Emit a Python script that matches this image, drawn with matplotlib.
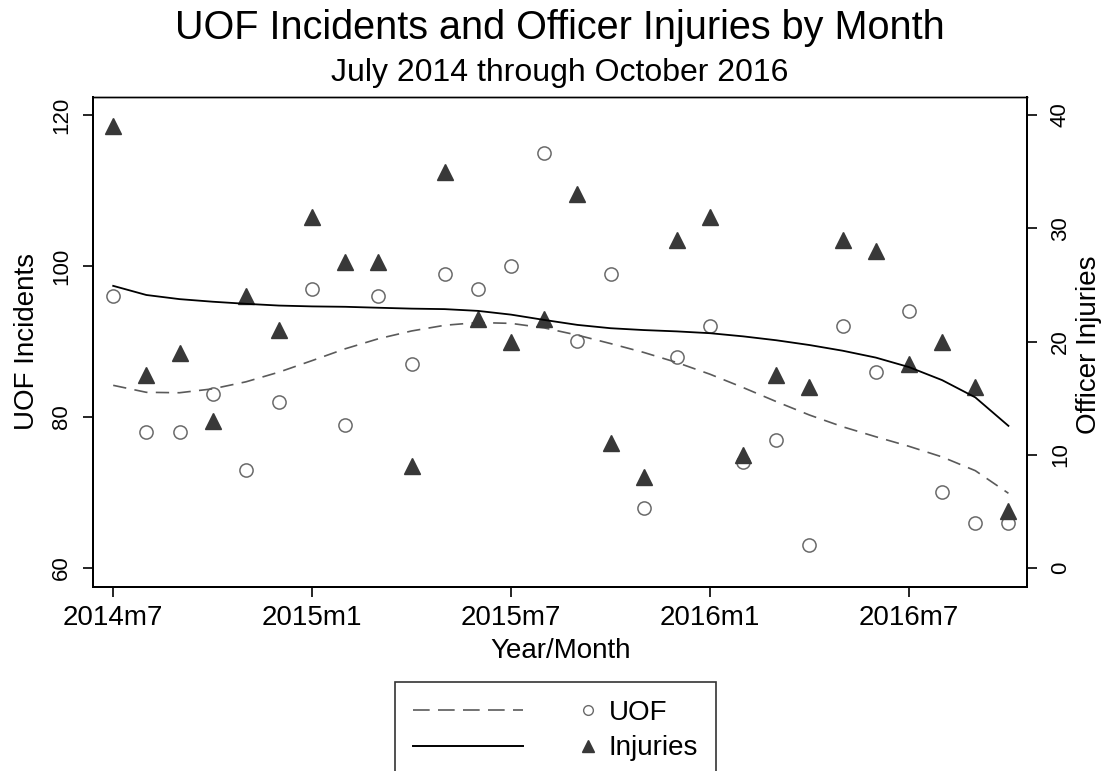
import numpy as np
import matplotlib
matplotlib.use("Agg")
import matplotlib.pyplot as plt
from matplotlib.lines import Line2D
from matplotlib.legend_handler import HandlerBase

plt.rcParams['font.family'] = ['Liberation Sans', 'DejaVu Sans']

# ---------------- data ----------------
months = ['2014m7', '2014m8', '2014m9', '2014m10', '2014m11', '2014m12',
          '2015m1', '2015m2', '2015m3', '2015m4', '2015m5', '2015m6',
          '2015m7', '2015m8', '2015m9', '2015m10', '2015m11', '2015m12',
          '2016m1', '2016m2', '2016m3', '2016m4', '2016m5', '2016m6',
          '2016m7', '2016m8', '2016m9', '2016m10']
uof = [96, 78, 78, 83, 73, 82, 97, 79, 96, 87, 99, 97, 100, 115,
       90, 99, 68, 88, 92, 74, 77, 63, 92, 86, 94, 70, 66, 66]
injuries = [39, 17, 19, 13, 24, 21, 31, 27, 27, 9, 35, 22, 20, 22,
            33, 11, 8, 29, 31, 10, 17, 16, 29, 28, 18, 20, 16, 5]
tick_labels = ['2014m7', '2015m1', '2015m7', '2016m1', '2016m7']
left_ticks = [60, 80, 100, 120]
right_ticks = [0, 10, 20, 30, 40]


def stata_lowess(x, y, bw=0.8):
    x = np.asarray(x, float)
    y = np.asarray(y, float)
    n = len(x)
    k = int(np.floor((n * bw - 0.5) / 2))
    out = np.empty(n)
    for i in range(n):
        lo = max(0, i - k)
        hi = min(n - 1, i + k)
        xs = x[lo:hi + 1]
        ys = y[lo:hi + 1]
        delta = 1.0001 * max(x[hi] - x[i], x[i] - x[lo])
        w = (1 - (np.abs(xs - x[i]) / delta) ** 3) ** 3
        W = w.sum()
        xm = (w * xs).sum() / W
        ym = (w * ys).sum() / W
        b = (w * (xs - xm) * (ys - ym)).sum() / (w * (xs - xm) ** 2).sum()
        out[i] = ym + b * (x[i] - xm)
    return out


x = np.arange(len(months))
tick_pos = [months.index(t) for t in tick_labels]
uof_s = stata_lowess(x, uof)
inj_s = stata_lowess(x, injuries)

W, H = 1104, 771
fig = plt.figure(figsize=(W / 100, H / 100), dpi=100)
fig.patch.set_facecolor('white')

L, R, T, B = 93.3, 1027, 97, 586.7
ax = fig.add_axes([L / W, 1 - B / H, (R - L) / W, (B - T) / H])
ax2 = ax.twinx()

circ_col = '#6a6a6a'
tri_col = '#383838'

ax.plot(x, uof, linestyle='None', marker='o', markersize=9.5,
        markerfacecolor='white', markeredgecolor=circ_col, markeredgewidth=1.1, zorder=3)
ax.plot(x, uof_s, color='#5a5a5a', lw=1.2, linestyle=(0, (8, 5)), zorder=4)
ax2.plot(x, injuries, linestyle='None', marker='^', markersize=11.5,
         color=tri_col, zorder=3)
ax2.plot(x, inj_s, color='black', lw=1.3, zorder=4)

ax.set_xlim(-0.6, 27.56)
ax.set_ylim(57.52, 122.38)
ax2.set_ylim(-1.65, 41.59)

ax.set_xticks(tick_pos)
ax.set_xticklabels(tick_labels)
ax.set_yticks(left_ticks)
ax2.set_yticks(right_ticks)

for a in (ax, ax2):
    for s in a.spines.values():
        s.set_color('black')
        s.set_linewidth(1.4)
    a.spines['top'].set_linewidth(1.0)

ax.tick_params(axis='x', direction='out', length=7, width=1.2, labelsize=20, pad=6)
ax.tick_params(axis='y', direction='out', length=7, width=1.2, labelsize=16, pad=8.5)
ax2.tick_params(axis='y', direction='out', length=7, width=1.2, labelsize=16, pad=9.5)
for lab in ax.get_yticklabels():
    lab.set_rotation(90)
    lab.set_va('center')
for lab in ax2.get_yticklabels():
    lab.set_rotation(90)
    lab.set_va('center')

ax.set_xlabel('Year/Month', fontsize=20, labelpad=5.5)
fig.text(27 / W, 1 - 341 / H, 'UOF Incidents', rotation=90, fontsize=20,
         ha='center', va='center')
fig.text(1089 / W, 1 - 345 / H, 'Officer Injuries', rotation=90, fontsize=20,
         ha='center', va='center')

fig.text(560 / W, 1 - 28 / H, 'UOF Incidents and Officer Injuries by Month',
         fontsize=28.5, ha='center', va='center')
fig.text(560 / W, 1 - 73 / H, 'July 2014 through October 2016',
         fontsize=23, ha='center', va='center')


class LineMarkerHandler(HandlerBase):
    def create_artists(self, legend, orig_handle, xdescent, ydescent,
                       width, height, fontsize, trans):
        line_h, mark_h = orig_handle
        y = height / 2 - ydescent
        x0 = -xdescent
        ln = Line2D([x0, x0 + 0.6 * width], [y, y])
        ln.update_from(line_h)
        ln.set_transform(trans)
        mk = Line2D([x0 + width - 0.3 * fontsize], [y])
        mk.update_from(mark_h)
        mk.set_linestyle('None')
        mk.set_transform(trans)
        return [ln, mk]


h_dash = Line2D([], [], color='#5a5a5a', lw=1.2, linestyle=(0, (10, 5)))
h_circ = Line2D([], [], linestyle='None', marker='o', markersize=7,
                markerfacecolor='white', markeredgecolor=circ_col, markeredgewidth=1.0)
h_solid = Line2D([], [], color='black', lw=1.4)
h_tri = Line2D([], [], linestyle='None', marker='^', markersize=9, color=tri_col)

leg = fig.legend(handles=[(h_dash, h_circ), (h_solid, h_tri)],
                 labels=['UOF', 'Injuries'],
                 handler_map={tuple: LineMarkerHandler()},
                 loc='upper left', bbox_to_anchor=(395 / W, 1 - 682 / H),
                 fontsize=20, handlelength=6.6, handletextpad=0.45,
                 borderpad=0.65, labelspacing=0.33, frameon=True,
                 fancybox=False, edgecolor='black', borderaxespad=0)
leg.get_frame().set_linewidth(1.2)

fig.savefig('out.png', dpi=100, facecolor='white')
